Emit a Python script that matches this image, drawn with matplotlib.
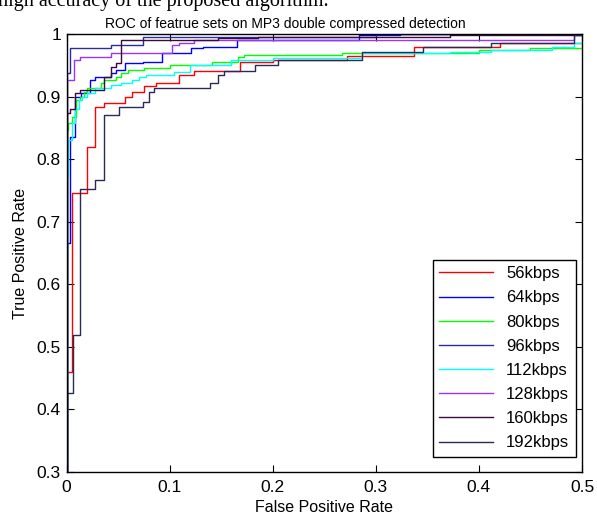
import matplotlib
matplotlib.use("Agg")
import matplotlib.pyplot as plt

plt.rcParams['font.family'] = ['Liberation Sans', 'DejaVu Sans']

# ROC step curves (FPR -> TPR, steps-post)
labels = ["56kbps", "64kbps", "80kbps", "96kbps", "112kbps", "128kbps", "160kbps", "192kbps"]
colors = ["#ff0000", "#0000ff", "#00ff00", "#2b2b99", "#00ffff", "#9933ff", "#3d0a3d", "#2a2a5a"]

fpr_56 = [0, 0, 0.0054, 0.020, 0.028, 0.036, 0.057, 0.064, 0.075, 0.0865, 0.109, 0.124, 0.168, 0.200, 0.272, 0.337, 0.4205, 0.5]
tpr_56 = [0, 0.46, 0.746, 0.820, 0.884, 0.890, 0.900, 0.908, 0.917, 0.921, 0.934, 0.941, 0.956, 0.958, 0.965, 0.980, 0.986, 0.986]

fpr_64 = [0, 0, 0.0034, 0.0086, 0.014, 0.023, 0.028, 0.043, 0.048, 0.057, 0.074, 0.093, 0.121, 0.132, 0.165, 0.284, 0.323, 0.5]
tpr_64 = [0, 0.666, 0.836, 0.900, 0.905, 0.926, 0.932, 0.937, 0.943, 0.953, 0.956, 0.969, 0.977, 0.980, 0.990, 0.998, 1.0, 1.0]

fpr_80 = [0, 0, 0.0015, 0.0054, 0.0095, 0.0135, 0.017, 0.020, 0.033, 0.036, 0.048, 0.053, 0.060, 0.075, 0.100, 0.141, 0.166, 0.172, 0.267, 0.40, 0.45, 0.5]
tpr_80 = [0, 0.847, 0.857, 0.868, 0.894, 0.900, 0.908, 0.913, 0.921, 0.926, 0.932, 0.937, 0.943, 0.946, 0.950, 0.955, 0.963, 0.966, 0.969, 0.974, 0.977, 0.977]

fpr_96 = [0, 0, 0.0037, 0.043, 0.074, 0.300, 0.5]
tpr_96 = [0, 0.937, 0.977, 0.982, 0.996, 1.0, 1.0]

fpr_112 = [0, 0, 0.0015, 0.0054, 0.0086, 0.012, 0.0155, 0.020, 0.028, 0.043, 0.053, 0.064, 0.070, 0.077, 0.104, 0.120, 0.160, 0.200, 0.287, 0.372, 0.412, 0.471, 0.492, 0.5]
tpr_112 = [0, 0.772, 0.830, 0.857, 0.880, 0.894, 0.900, 0.905, 0.913, 0.918, 0.921, 0.926, 0.932, 0.935, 0.940, 0.950, 0.958, 0.962, 0.969, 0.972, 0.974, 0.980, 0.986, 0.986]

fpr_128 = [0, 0, 0.0075, 0.0135, 0.043, 0.102, 0.109, 0.124, 0.492, 0.5]
tpr_128 = [0, 0.926, 0.958, 0.963, 0.969, 0.982, 0.986, 0.990, 0.998, 0.998]

fpr_160 = [0, 0, 0.0037, 0.0086, 0.0135, 0.036, 0.043, 0.048, 0.053, 0.147, 0.186, 0.372, 0.5]
tpr_160 = [0, 0.873, 0.880, 0.905, 0.910, 0.932, 0.948, 0.953, 0.990, 0.993, 0.996, 0.998, 0.998]

fpr_192 = [0, 0, 0.006, 0.0135, 0.028, 0.036, 0.051, 0.074, 0.080, 0.085, 0.139, 0.147, 0.153, 0.183, 0.205, 0.287, 0.346, 0.412, 0.492, 0.5]
tpr_192 = [0, 0.426, 0.519, 0.753, 0.767, 0.870, 0.884, 0.892, 0.908, 0.913, 0.921, 0.934, 0.941, 0.950, 0.958, 0.972, 0.980, 0.986, 0.998, 0.998]

fprs = [fpr_56, fpr_64, fpr_80, fpr_96, fpr_112, fpr_128, fpr_160, fpr_192]
tprs = [tpr_56, tpr_64, tpr_80, tpr_96, tpr_112, tpr_128, tpr_160, tpr_192]

fig = plt.figure(figsize=(5.97, 5.21), dpi=100)
ax = fig.add_axes([0.1114, 0.094, 0.8635, 0.8407])

for f, t, c, lab in zip(fprs, tprs, colors, labels):
    ax.plot(f, t, drawstyle="steps-post", color=c, lw=1.0, label=lab)

ax.set_xlim(0, 0.5)
ax.set_ylim(0.3, 1.0)
ax.set_xticks([0, 0.1, 0.2, 0.3, 0.4, 0.5])
ax.set_xticklabels(["0", "0.1", "0.2", "0.3", "0.4", "0.5"])
ax.set_yticks([0.3, 0.4, 0.5, 0.6, 0.7, 0.8, 0.9, 1.0])
ax.set_yticklabels(["0.3", "0.4", "0.5", "0.6", "0.7", "0.8", "0.9", "1"])
ax.tick_params(direction="in", top=True, right=True, labelsize=12.5, length=5, width=0.8)
ax.tick_params(axis="x", pad=6)
ax.tick_params(axis="y", pad=4)
for s in ax.spines.values():
    s.set_linewidth(1.0)

ax.set_xlabel("False Positive Rate", fontsize=11.5, labelpad=3)
ax.set_ylabel("True Positive Rate", fontsize=11.5, labelpad=6)
ax.set_title("ROC of featrue sets on MP3 double compressed detection", fontsize=10, pad=4, x=0.424)

leg = ax.legend(loc="lower right", bbox_to_anchor=(0.988, 0.034), borderaxespad=0,
                fontsize=12, handlelength=3.2, labelspacing=0.55, fancybox=False,
                edgecolor="black", framealpha=1)
leg.get_frame().set_linewidth(1.0)

# cut-off line of the surrounding paper text
fig.text(-0.004, 1 - 6 / 521, "high accuracy of the proposed algorithm.", family="Liberation Serif",
         fontsize=14.5, va="baseline", ha="left")

fig.savefig("out.png", dpi=100)
